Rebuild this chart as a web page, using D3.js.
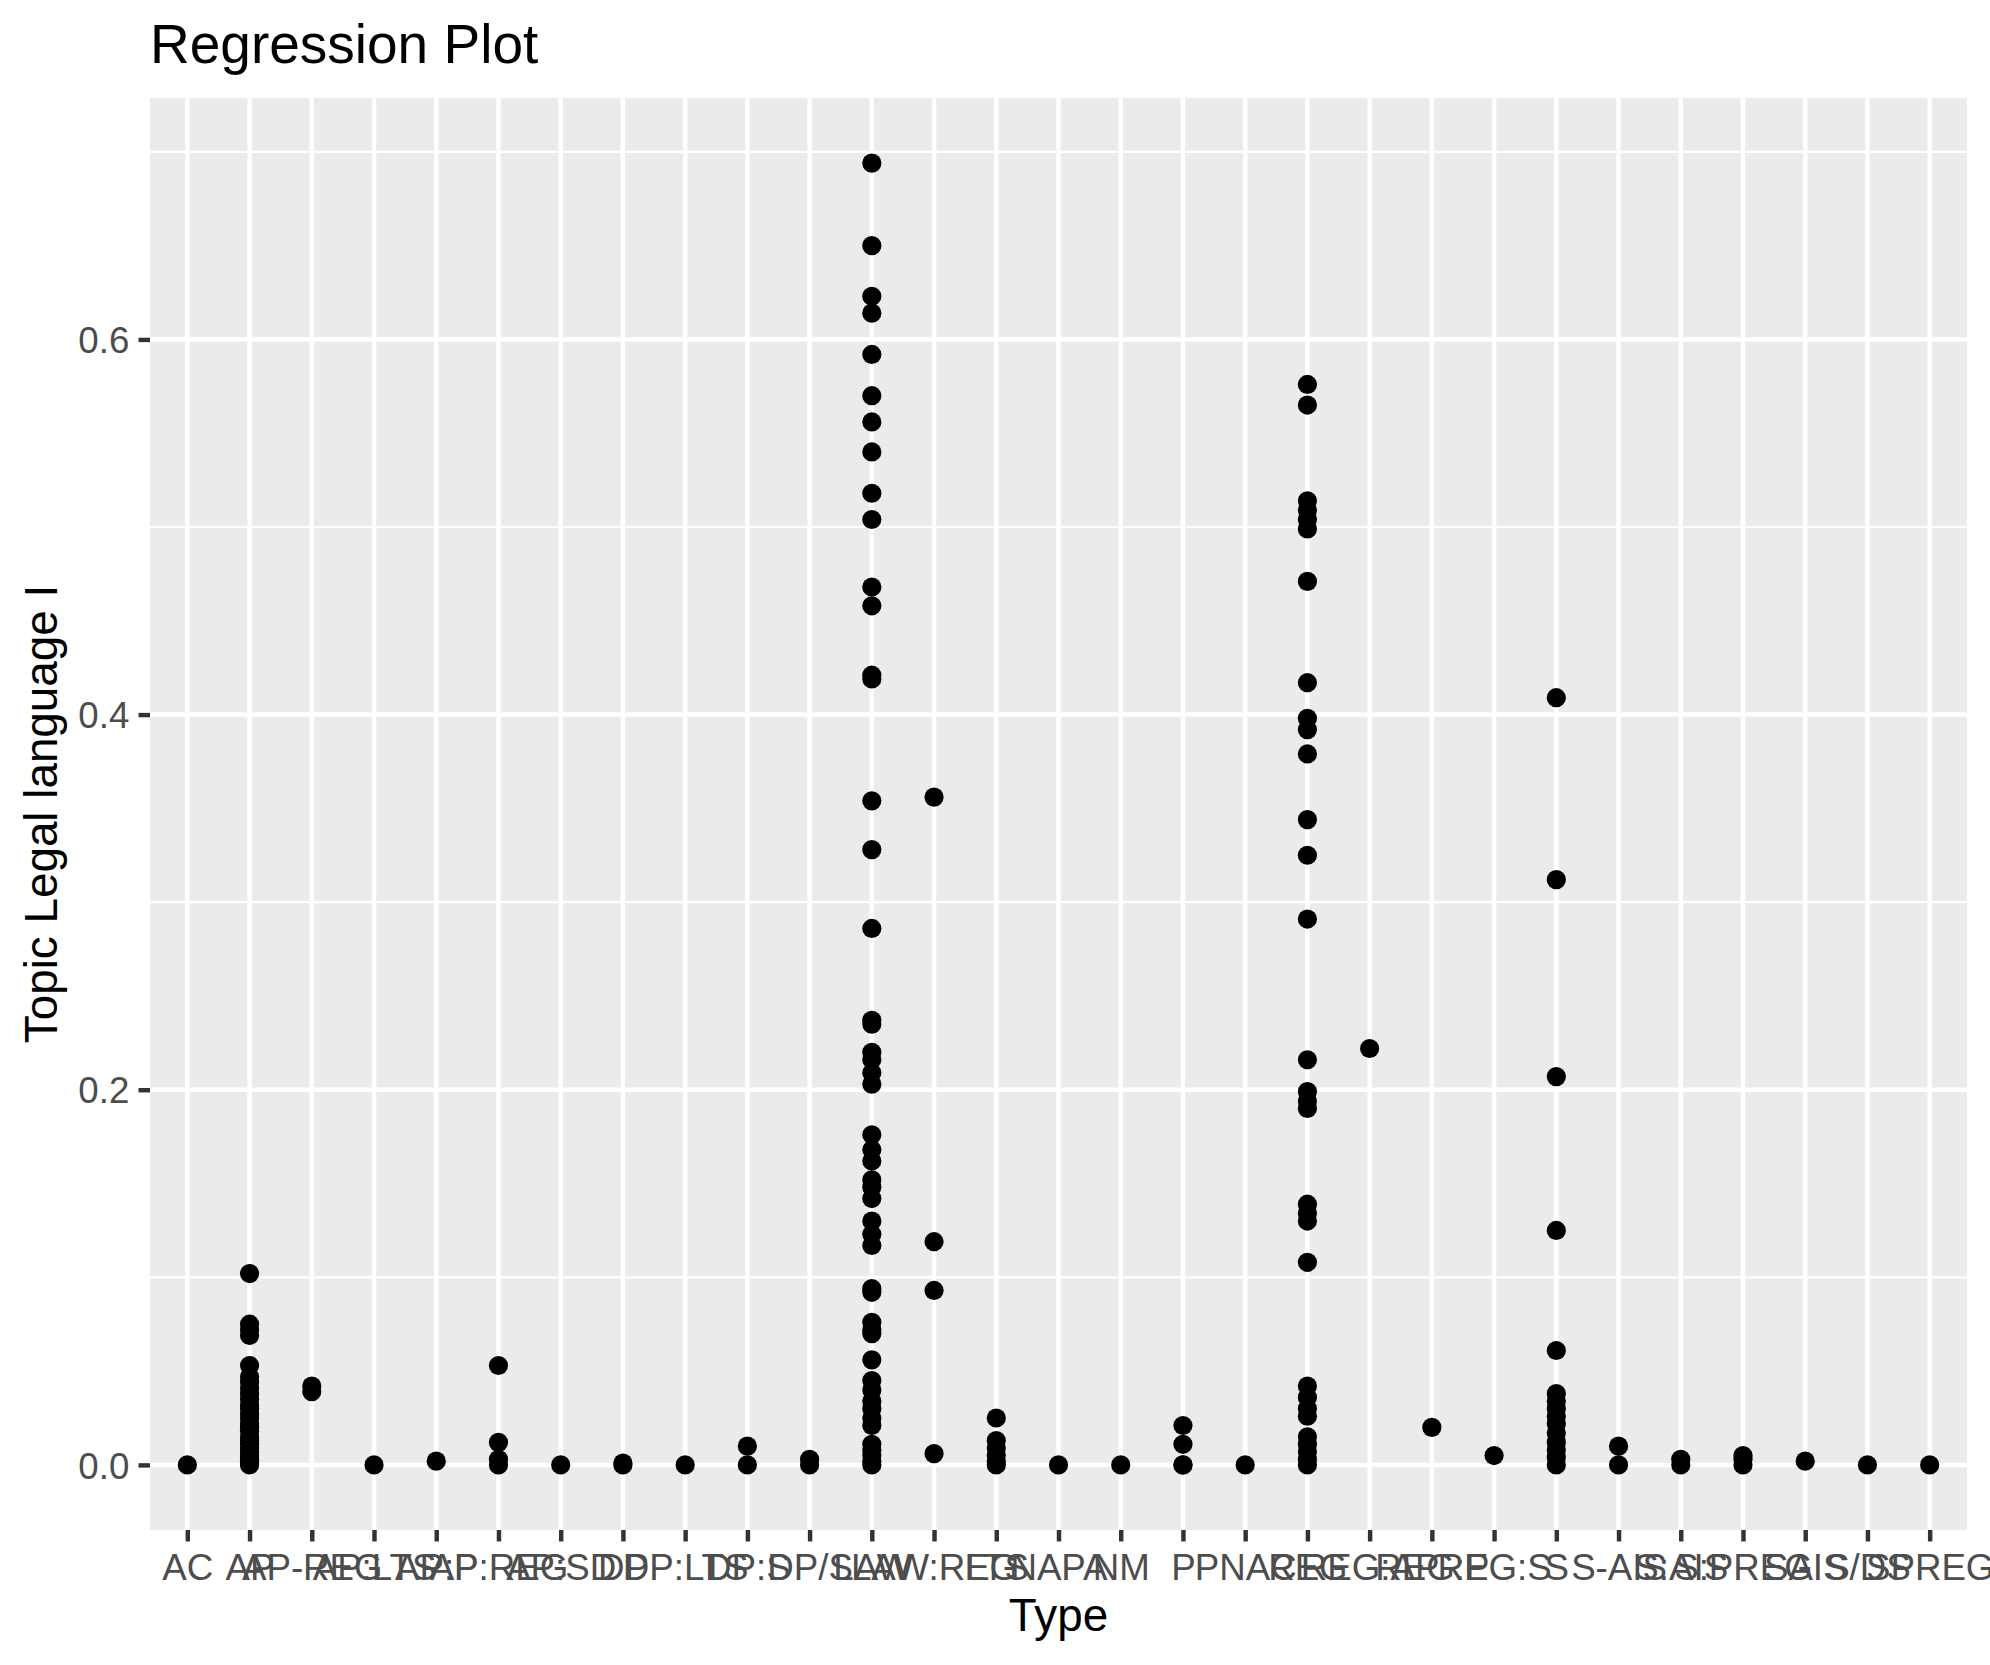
<!DOCTYPE html>
<html>
<head>
<meta charset="utf-8">
<script src="https://cdn.jsdelivr.net/npm/d3@7"></script>
<style>
  body { margin: 0; background: #fff; }
  svg { display: block; font-family: "Liberation Sans", Arial, Helvetica, sans-serif; }
</style>
</head>
<body>
<svg id="chart" width="1990" height="1665"></svg>
<script>
// document types on the x axis, in factor order
const types = ["AC", "AP", "AP-REG", "AP:LTS", "AP:P", "AP:REG", "AP:SD", "DP", "DP:LTS", "DP:S",
    "DP/S", "LAW", "LAW:REG", "LTS", "NAPA", "NM", "P", "PNAC", "REG", "REG:AP",
    "REG:P", "REG:S", "S", "S-AIS", "S:AIS", "S:PREG", "SAIS", "S/DS", "SPREG"];

// topic share per document, one list per type (same order as types)
const topicValues = [
    [0],
    [0.102, 0.075, 0.072, 0.069, 0.053, 0.047, 0.044, 0.041, 0.038, 0.035, 0.032, 0.030, 0.027, 0.025,
        0.022, 0.020, 0.018, 0.015, 0.013, 0.011, 0.009, 0.007, 0.005, 0.003, 0.002, 0.001, 0],
    [0.042, 0.039],
    [0],
    [0.002],
    [0.053, 0.012, 0.003, 0],
    [0],
    [0.001, 0],
    [0],
    [0.010, 0],
    [0.003, 0],
    [0.694, 0.650, 0.623, 0.614, 0.592, 0.570, 0.556, 0.540, 0.518, 0.504, 0.468, 0.458, 0.421, 0.419,
        0.354, 0.328, 0.286, 0.237, 0.235, 0.220, 0.216, 0.209, 0.203, 0.176, 0.168, 0.162, 0.152, 0.148,
        0.142, 0.130, 0.123, 0.117, 0.094, 0.092, 0.076, 0.072, 0.070, 0.056, 0.045, 0.040, 0.034, 0.030,
        0.025, 0.021, 0.011, 0.008, 0.005, 0.002, 0],
    [0.356, 0.119, 0.093, 0.006],
    [0.025, 0.013, 0.009, 0.005, 0.002, 0],
    [0],
    [0],
    [0.021, 0.011, 0, 0],
    [0],
    [0.576, 0.565, 0.514, 0.509, 0.504, 0.499, 0.471, 0.417, 0.398, 0.392, 0.379, 0.344, 0.325, 0.291,
        0.216, 0.199, 0.194, 0.190, 0.139, 0.134, 0.130, 0.108, 0.042, 0.036, 0.030, 0.026, 0.015, 0.011,
        0.007, 0.003, 0],
    [0.222],
    [0.020],
    [0.005],
    [0.409, 0.312, 0.207, 0.125, 0.061, 0.038, 0.034, 0.030, 0.026, 0.022, 0.017, 0.012, 0.008, 0.004, 0],
    [0.010, 0],
    [0.003, 0],
    [0.005, 0.003, 0],
    [0.002],
    [0],
    [0]
];

const yTicks = [0, 0.2, 0.4, 0.6];
const yMinorTicks = [0.1, 0.3, 0.5, 0.7];

// flat list of points for the marks
const points = [];
types.forEach((t, i) => {
    topicValues[i].forEach(v => points.push({type: t, value: v}));
});

const svg = d3.select("#chart");
const width = 1990, height = 1665;
const margin = {top: 98, right: 23, bottom: 135, left: 150};
const pw = width - margin.left - margin.right;
const ph = height - margin.top - margin.bottom;

// ggplot style expansion: 0.6 units for discrete, 5% for continuous
const x = d3.scalePoint().domain(types).range([0, pw]).padding(0.6);
const ext = d3.extent(points, d => d.value);
const pad = (ext[1] - ext[0]) * 0.05;
const y = d3.scaleLinear().domain([ext[0] - pad, ext[1] + pad]).range([ph, 0]);

const majorW = 4.45, minorW = 2.2;

const g = svg.append("g").attr("transform", `translate(${margin.left},${margin.top})`);

g.append("rect")
    .attr("width", pw).attr("height", ph)
    .attr("fill", "#EBEBEB");

g.selectAll(".minor")
    .data(yMinorTicks.filter(v => v >= y.domain()[0] && v <= y.domain()[1]))
    .join("line")
    .attr("x1", 0).attr("x2", pw)
    .attr("y1", d => y(d)).attr("y2", d => y(d))
    .attr("stroke", "#fff").attr("stroke-width", minorW);

g.selectAll(".majorY")
    .data(yTicks)
    .join("line")
    .attr("x1", 0).attr("x2", pw)
    .attr("y1", d => y(d)).attr("y2", d => y(d))
    .attr("stroke", "#fff").attr("stroke-width", majorW);

g.selectAll(".majorX")
    .data(types)
    .join("line")
    .attr("x1", d => x(d)).attr("x2", d => x(d))
    .attr("y1", 0).attr("y2", ph)
    .attr("stroke", "#fff").attr("stroke-width", majorW);

g.selectAll("circle")
    .data(points)
    .join("circle")
    .attr("cx", d => x(d.type))
    .attr("cy", d => y(d.value))
    .attr("r", 9.6)
    .attr("fill", "#000");

// axes
const tickLen = 11.46;

const xAxis = g.append("g")
    .attr("transform", `translate(0,${ph})`)
    .call(d3.axisBottom(x).tickSize(tickLen).tickSizeOuter(0));
xAxis.select(".domain").remove();
xAxis.selectAll(".tick line").attr("stroke", "#333333").attr("stroke-width", majorW);
xAxis.selectAll(".tick text")
    .attr("y", 50).attr("dy", null)
    .attr("fill", "#4D4D4D")
    .style("font-size", "36.7px");

const yAxis = g.append("g")
    .call(d3.axisLeft(y).tickValues(yTicks).tickFormat(d3.format(".1f")).tickSize(tickLen).tickPadding(9.2));
yAxis.select(".domain").remove();
yAxis.selectAll(".tick line").attr("stroke", "#333333").attr("stroke-width", majorW);
yAxis.selectAll(".tick text")
    .attr("dy", "0.36em")
    .attr("fill", "#4D4D4D")
    .style("font-size", "36.7px");

xAxis.attr("font-family", null);
yAxis.attr("font-family", null);

// titles
svg.append("text")
    .attr("x", margin.left).attr("y", 63)
    .style("font-size", "55px")
    .attr("fill", "#000")
    .text("Regression Plot");

svg.append("text")
    .attr("x", margin.left + pw / 2).attr("y", 1631)
    .attr("text-anchor", "middle")
    .style("font-size", "45.8px")
    .attr("fill", "#000")
    .text("Type");

svg.append("text")
    .attr("transform", `translate(57,${margin.top + ph / 2}) rotate(-90)`)
    .attr("text-anchor", "middle")
    .style("font-size", "45.8px")
    .attr("fill", "#000")
    .text("Topic Legal language I");
</script>
</body>
</html>
